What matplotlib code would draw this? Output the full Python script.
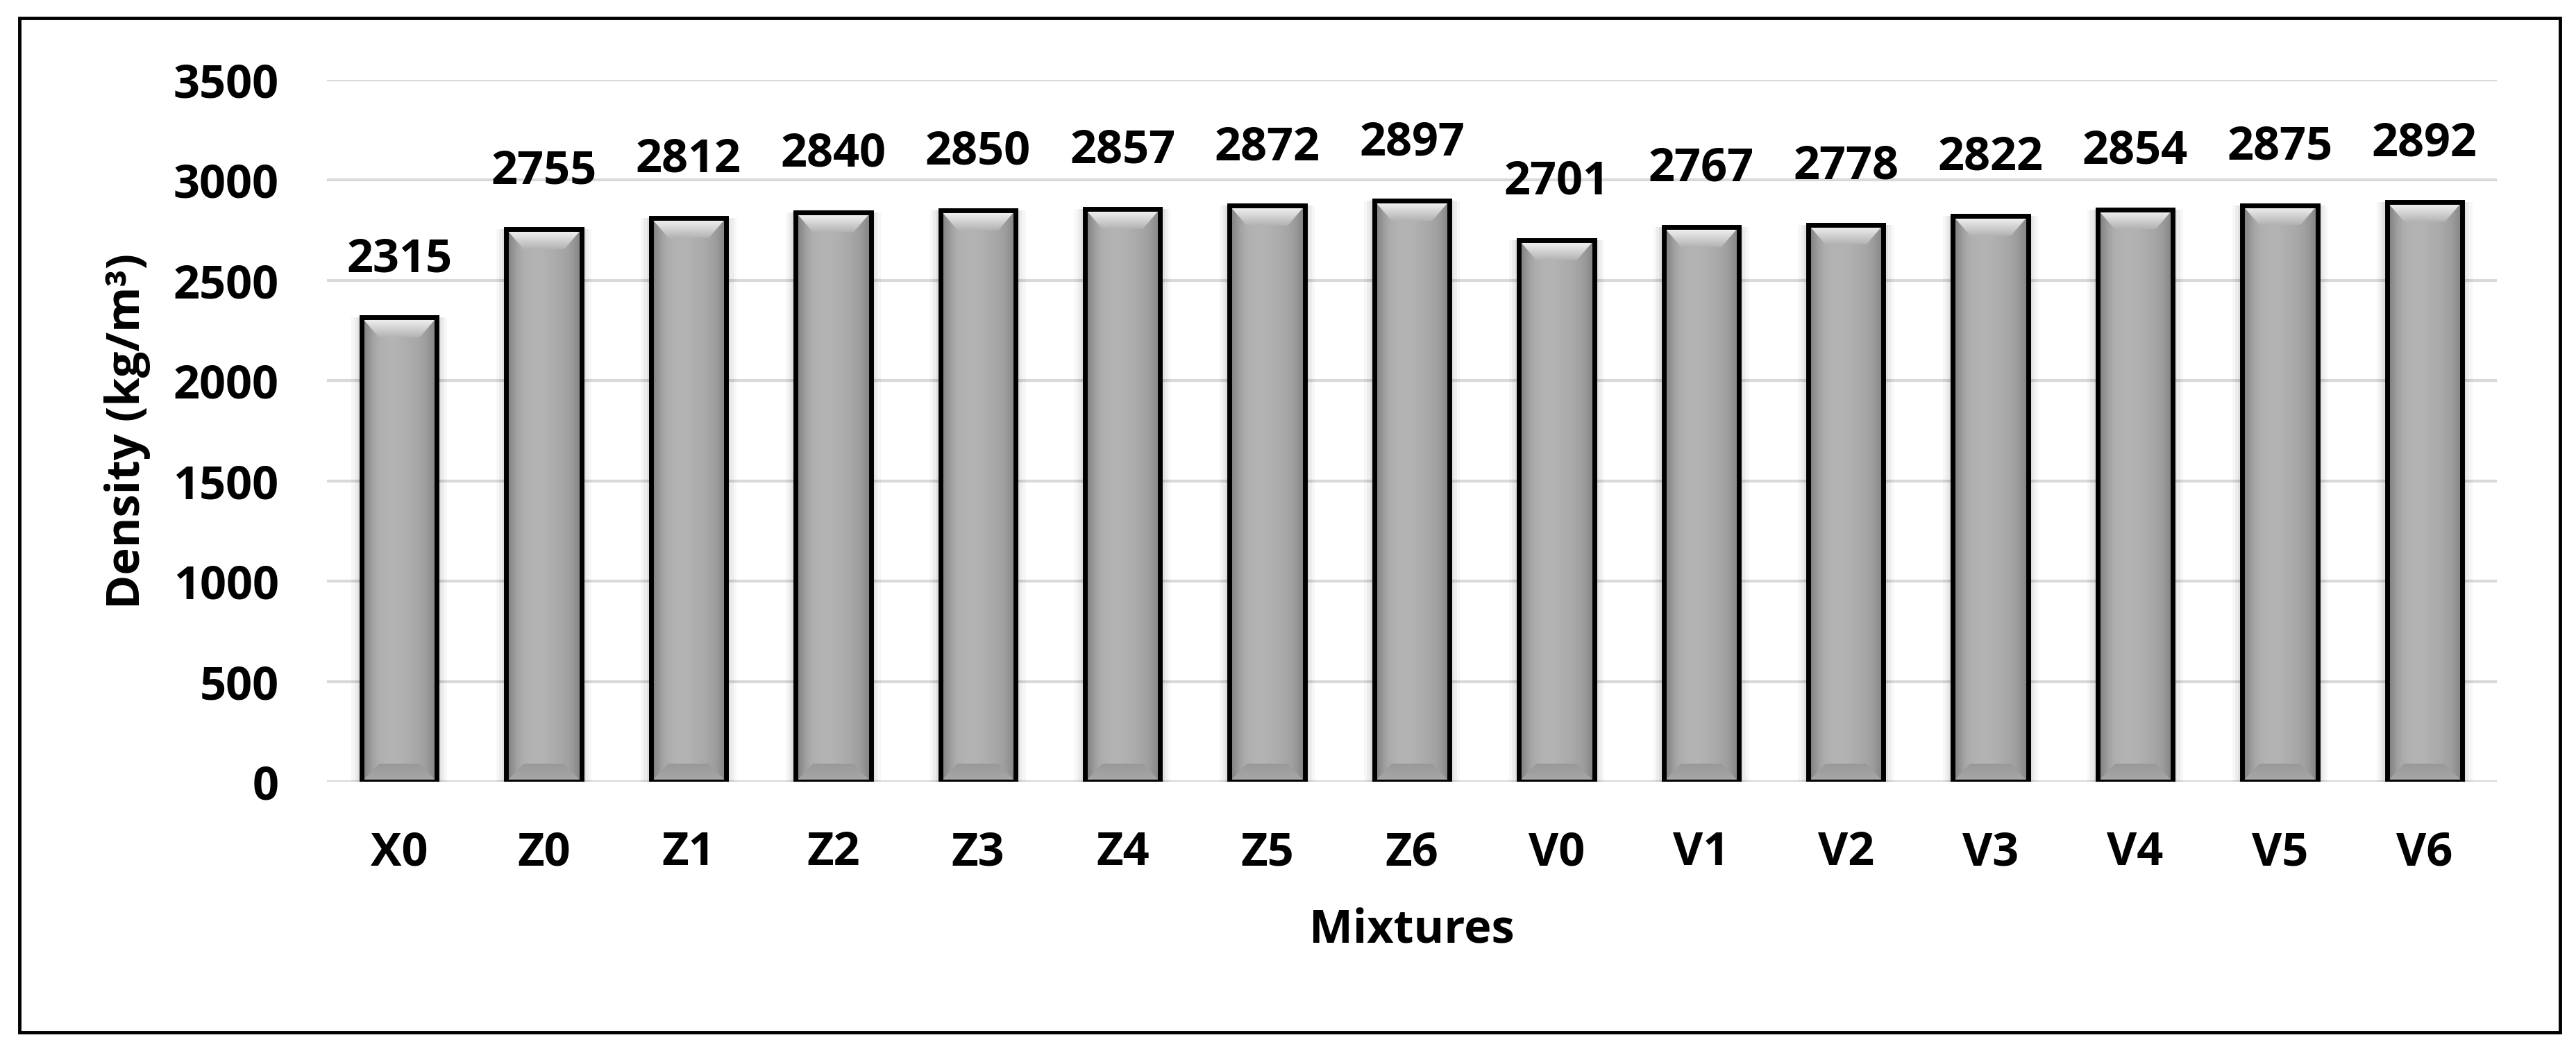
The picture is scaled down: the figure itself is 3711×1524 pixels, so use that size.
import numpy as np
import matplotlib
matplotlib.use('Agg')
import matplotlib.pyplot as plt
from matplotlib.patches import Polygon, Rectangle

categories = ['X0', 'Z0', 'Z1', 'Z2', 'Z3', 'Z4', 'Z5', 'Z6',
              'V0', 'V1', 'V2', 'V3', 'V4', 'V5', 'V6']
density = [2315, 2755, 2812, 2840, 2850, 2857, 2872, 2897,
           2701, 2767, 2778, 2822, 2854, 2875, 2892]
y_ticks = [0, 500, 1000, 1500, 2000, 2500, 3000, 3500]

plt.rcParams['font.family'] = ['Open Sans', 'DejaVu Sans']
plt.rcParams['font.weight'] = 'bold'
FS = 48

W, H = 3712, 1524
fig = plt.figure(figsize=(W / 100, H / 100), dpi=100)
ax_l, ax_r, ax_t, ax_b = 471, 3597, 115, 1126
ax = fig.add_axes([ax_l / W, 1 - ax_b / H, (ax_r - ax_l) / W, (ax_b - ax_t) / H])

x = np.arange(len(categories))
bw = 0.52
hw = bw / 2

# soft shadow/glow around bars
for w, a in [(0.66, 0.03), (0.62, 0.04), (0.58, 0.05)]:
    ax.bar(x, density, width=w, color='black', alpha=a, linewidth=0, zorder=2)

# horizontal shading profile for the bar bodies
prof = np.array([0.50, 0.58, 0.64, 0.68, 0.69, 0.70, 0.70, 0.70, 0.69, 0.68,
                 0.67, 0.66, 0.64, 0.62, 0.58, 0.52])[None, :]
vgrad_top = np.linspace(0.97, 0.70, 40)[:, None]
vgrad_bot = np.linspace(0.66, 0.60, 40)[:, None]

bars = ax.bar(x, density, width=bw, color='#ababab', linewidth=0, zorder=3)
for xi, v, b in zip(x, density, bars):
    im = ax.imshow(prof, cmap='gray', vmin=0, vmax=1, aspect='auto',
                   extent=(xi - hw, xi + hw, 0, v), zorder=3.1,
                   interpolation='bicubic')
    im.set_clip_path(b)
    depth = 100
    inset = 0.12
    top = Polygon([(xi - hw, v), (xi + hw, v), (xi + hw - inset, v - depth),
                   (xi - hw + inset, v - depth)], closed=True,
                  facecolor='none', edgecolor='none', transform=ax.transData)
    ax.add_patch(top)
    imt = ax.imshow(vgrad_top, cmap='gray', vmin=0, vmax=1, aspect='auto',
                    extent=(xi - hw, xi + hw, v - depth, v), zorder=3.2,
                    interpolation='bicubic')
    imt.set_clip_path(top)
    bot = Polygon([(xi - hw, 0), (xi + hw, 0), (xi + hw - inset, depth * 0.9),
                   (xi - hw + inset, depth * 0.9)], closed=True,
                  facecolor='none', edgecolor='none', transform=ax.transData)
    ax.add_patch(bot)
    imb = ax.imshow(vgrad_bot, cmap='gray', vmin=0, vmax=1, aspect='auto',
                    extent=(xi - hw, xi + hw, 0, depth * 0.9), zorder=3.2,
                    interpolation='bicubic', origin='lower')
    imb.set_clip_path(bot)

# bar outlines
ax.bar(x, density, width=bw, facecolor='none', edgecolor='black',
       linewidth=5, zorder=4)

# data labels
for xi, v in zip(x, density):
    ax.annotate(f'{v}', (xi, v), xytext=(0, 36), textcoords='offset points',
                ha='center', va='bottom', fontsize=FS, fontweight='bold',
                color='black', zorder=5)

ax.set_xlim(-0.5, len(categories) - 0.5)
ax.set_ylim(0, 3500)
ax.set_yticks(y_ticks)
ax.set_yticklabels([str(t) for t in y_ticks])
ax.set_xticks(x)
ax.set_xticklabels(categories)
ax.tick_params(axis='both', length=0, labelsize=FS)
ax.tick_params(axis='y', pad=50)
ax.tick_params(axis='x', pad=50)
for lab in ax.get_xticklabels() + ax.get_yticklabels():
    lab.set_fontweight('bold')

ax.grid(axis='y', color='#d9d9d9', linewidth=3, zorder=0)
ax.set_axisbelow(True)
for s in ax.spines.values():
    s.set_visible(False)

ax.set_ylabel('Density (kg/m³)', fontsize=FS, fontweight='bold')
ax.yaxis.set_label_coords((183 - ax_l) / (ax_r - ax_l), 0.5)
ax.yaxis.label.set_va('center')
ax.set_xlabel('Mixtures', fontsize=FS, fontweight='bold')
ax.xaxis.set_label_coords(0.5, -(1340 - ax_b) / (ax_b - ax_t))
ax.xaxis.label.set_va('center')

# outer frame
fig.add_artist(Rectangle((28 / W, 1 - 1487 / H), (3688 - 28) / W, (1487 - 26) / H,
                         transform=fig.transFigure, fill=False,
                         edgecolor='black', linewidth=3.5))

fig.savefig('out.png', dpi=100, facecolor='white')
